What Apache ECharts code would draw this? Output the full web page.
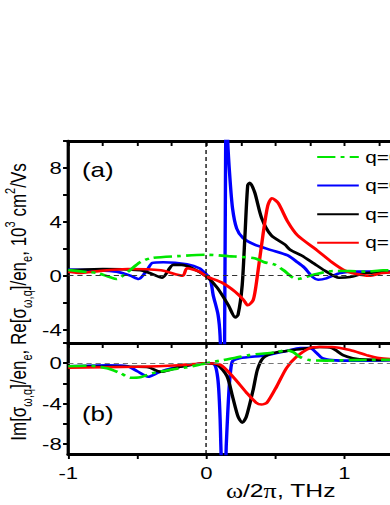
<!DOCTYPE html>
<html>
<head>
<meta charset="utf-8">
<script src="https://cdn.jsdelivr.net/npm/echarts@6/dist/echarts.min.js"></script>
<style>
html,body{margin:0;padding:0;background:#fff;overflow:hidden;}
#wrap{width:390px;height:505px;overflow:hidden;position:relative;background:#fff;}
#c{width:300px;height:505px;transform:scaleX(1.3);transform-origin:0 0;}
</style>
</head>
<body>
<div id="wrap"><div id="c"></div></div>
<script>
// ---------- data ----------
const legendNames = ['q=0.1', 'q=0.5', 'q=1.0', 'q=1.5'];
const xTickValues = [-1, -0.75, -0.5, -0.25, 0, 0.25, 0.5, 0.75, 1, 1.25, 1.5];
const xMajorTicks = [-1, -0.5, 0, 0.5, 1, 1.5];
const xLabelValues = [-1, 0, 1];
const reTicks = [-4, -2, 0, 2, 4, 6, 8, 10];
const reLabels = [-4, 0, 4, 8];
const imTicks = [-8, -6, -4, -2, 0, 2];
const imLabels = [-8, -4, 0];

// panel (a): Re
const reGreenX = [-1.0, -0.86, -0.79, -0.7, -0.65, -0.57, -0.48, -0.4, -0.21, 0.0, 0.16, 0.35, 0.42, 0.5, 0.56, 0.62, 0.66, 0.77, 0.92, 1.04, 1.16, 1.28, 1.5];
const reGreenY = [0.42, 0.27, 0.2, -0.1, -0.25, 0.27, 1.0, 1.3, 1.45, 1.55, 1.45, 1.3, 1.0, 0.8, 0.4, -0.1, -0.25, 0.05, 0.35, 0.35, 0.3, 0.4, 0.3];

const reBlueX = [-1.0, -0.8, -0.65, -0.55, -0.49, -0.43, -0.39, -0.31, -0.14, -0.05, 0.0, 0.03, 0.05, 0.085, 0.1, 0.115, 0.125, 0.135, 0.145, 0.155, 0.17, 0.19, 0.22, 0.265, 0.35, 0.47, 0.59, 0.66, 0.71, 0.77, 0.81, 0.87, 0.97, 1.09, 1.28, 1.5];
const reBlueY = [0.45, 0.4, 0.3, 0.0, -0.25, 0.4, 0.95, 1.0, 0.85, 0.55, 0.1, -0.3, -1.45, -2.9, -4.5, -9, -14, 0, 14, 10, 7.4, 5.0, 3.5, 2.8, 2.3, 1.9, 1.5, 1.0, 0.6, -0.1, -0.3, -0.2, 0.2, 0.3, 0.3, 0.3];

const reBlackX = [-1.0, -0.75, -0.48, -0.41, -0.32, -0.24, -0.18, -0.1, 0.0, 0.08, 0.16, 0.21, 0.23, 0.26, 0.28, 0.30, 0.315, 0.35, 0.40, 0.47, 0.57, 0.61, 0.69, 0.78, 0.87, 0.96, 1.04, 1.16, 1.5];
const reBlackY = [0.4, 0.5, 0.4, 0.2, -0.15, 0.8, 0.8, 0.55, -0.05, -0.9, -2.2, -3.1, -2.9, -0.7, 3.0, 6.7, 6.9, 6.2, 4.3, 3.0, 2.3, 1.9, 1.5, 0.9, 0.3, -0.15, -0.1, 0.2, 0.3];

const reRedX = [-1.0, -0.91, -0.82, -0.57, -0.33, -0.17, -0.14, -0.05, 0.0, 0.11, 0.21, 0.27, 0.30, 0.34, 0.37, 0.41, 0.445, 0.475, 0.52, 0.59, 0.66, 0.80, 0.91, 1.0, 1.08, 1.18, 1.28, 1.5];
const reRedY = [0.3, 0.2, 0.3, 0.5, 0.4, 0.0, 0.55, 0.3, -0.05, -0.5, -1.2, -1.8, -2.2, -1.8, 0.0, 3.0, 5.2, 5.75, 5.4, 4.0, 3.0, 1.9, 1.0, 0.4, 0.15, 0.0, 0.2, 0.3];

// panel (b): Im
const imGreenX = [-1.0, -0.84, -0.72, -0.62, -0.55, -0.48, -0.39, -0.26, -0.14, 0.0, 0.12, 0.31, 0.51, 0.58, 0.63, 0.68, 0.75, 0.87, 1.04, 1.5];
const imGreenY = [-0.3, -0.25, -0.5, -1.0, -1.45, -1.4, -1.0, -0.65, -0.4, 0.0, 0.3, 0.8, 1.1, 1.3, 1.1, 0.6, 0.3, 0.25, 0.3, 0.35];

const imBlueX = [-1.0, -0.72, -0.57, -0.5, -0.42, -0.36, -0.29, -0.19, 0.0, 0.06, 0.08, 0.09, 0.10, 0.105, 0.11, 0.12, 0.13, 0.14, 0.145, 0.155, 0.165, 0.175, 0.19, 0.24, 0.44, 0.58, 0.68, 0.75, 0.80, 0.84, 0.91, 1.04, 1.5];
const imBlueY = [-0.3, -0.2, -0.3, -0.8, -1.35, -1.0, -0.65, -0.35, 0.0, -0.15, -1.2, -2.6, -5.5, -8, -10, -12, -12, -10, -8, -5, -2.5, -0.9, 0.2, 0.5, 0.8, 1.2, 1.5, 1.5, 1.0, 0.5, 0.3, 0.25, 0.35];

const imBlackX = [-1.0, -0.5, -0.42, -0.33, -0.26, -0.19, 0.0, 0.08, 0.15, 0.19, 0.23, 0.26, 0.29, 0.34, 0.37, 0.41, 0.48, 0.63, 0.75, 0.82, 0.91, 0.99, 1.06, 1.16, 1.5];
const imBlackY = [-0.35, -0.35, -0.4, -0.85, -0.65, -0.35, 0.0, -0.15, -1.3, -3.3, -5.3, -5.9, -5.3, -2.6, -0.65, 0.5, 1.0, 1.3, 1.5, 1.6, 1.5, 0.8, 0.5, 0.35, 0.3];

const imRedX = [-1.0, -0.5, -0.2, 0.0, 0.1, 0.19, 0.29, 0.36, 0.40, 0.44, 0.51, 0.58, 0.65, 0.75, 0.82, 0.91, 1.04, 1.16, 1.25, 1.5];
const imRedY = [-0.45, -0.35, -0.2, 0.0, -0.15, -1.3, -2.9, -3.9, -4.1, -3.9, -2.3, -0.5, 0.6, 1.5, 1.6, 1.6, 1.3, 0.8, 0.5, 0.3];

// ---------- chart ----------
const FONT = '"Liberation Sans", Arial, sans-serif';
const SERIF = '"Liberation Serif", "Times New Roman", serif';
const COLORS = { green: '#00e600', blue: '#0000ff', black: '#000000', red: '#ff0000' };
const GREEN_DASH = [14, 4, 3, 4];

function pairs(xs, ys) { return xs.map((x, i) => [x, ys[i]]); }

function mkSeries(name, color, dash, xIdx, yIdx, data, extra) {
  return Object.assign({
    type: 'line', name: name, xAxisIndex: xIdx, yAxisIndex: yIdx,
    data: data, symbol: 'none', showSymbol: false, smooth: 0.25,
    clip: true, silent: true,
    lineStyle: { color: color, width: 2.6, type: dash || 'solid' },
    itemStyle: { color: color }
  }, extra || {});
}

function zeroLines(hColor) {
  return {
    silent: true, symbol: ['none', 'none'], animation: false,
    label: { show: false },
    lineStyle: { type: [4, 3], width: 1, color: '#000' },
    data: [
      { xAxis: 0, lineStyle: { color: '#000', type: [4, 3], width: 1 } },
      { yAxis: 0, lineStyle: { color: hColor, type: [4, 3], width: 1 } }
    ]
  };
}

const axisLineStyleH = { show: true, onZero: false, lineStyle: { color: '#000', width: 3 } };
const axisLineStyleV = { show: true, onZero: false, lineStyle: { color: '#000', width: 2.5 } };
const labelFmt = v => (v < 0 ? '-' + Math.abs(v) : String(v));

const option = {
  animation: false,
  backgroundColor: '#fff',
  grid: [
    { left: 52.5, width: 265.5, top: 141, height: 202, outerBoundsMode: 'none', containLabel: false },
    { left: 52.5, width: 265.5, top: 343, height: 111, outerBoundsMode: 'none', containLabel: false }
  ],
  xAxis: [
    { gridIndex: 0, type: 'value', min: -1, max: 1.5, position: 'bottom',
      axisLine: axisLineStyleH,
      axisTick: { show: true, inside: false, length: 5, customValues: xTickValues, lineStyle: { color: '#000', width: 1.5 } },
      axisLabel: { show: false }, splitLine: { show: false } },
    { gridIndex: 0, type: 'value', min: -1, max: 1.5, position: 'top',
      axisLine: axisLineStyleH,
      axisTick: { show: true, inside: true, length: 5, customValues: xTickValues, lineStyle: { color: '#000', width: 1.5 } },
      axisLabel: { show: false }, splitLine: { show: false } },
    { gridIndex: 1, type: 'value', min: -1, max: 1.5, position: 'bottom',
      axisLine: axisLineStyleH,
      axisTick: { show: true, inside: false, length: 5, customValues: xMajorTicks, lineStyle: { color: '#000', width: 1.5 } },
      axisLabel: { show: true, customValues: xLabelValues, fontSize: 17, margin: 10, color: '#000', fontFamily: FONT, formatter: labelFmt },
      splitLine: { show: false } }
  ],
  yAxis: [
    { gridIndex: 0, type: 'value', min: -5, max: 10,
      axisLine: axisLineStyleV,
      axisTick: { show: true, inside: false, length: 4, customValues: reTicks, lineStyle: { color: '#000', width: 2 } },
      axisLabel: { show: true, customValues: reLabels, fontSize: 17, margin: 5, color: '#000', fontFamily: FONT, formatter: labelFmt },
      splitLine: { show: false } },
    { gridIndex: 1, type: 'value', min: -9, max: 2,
      axisLine: axisLineStyleV,
      axisTick: { show: true, inside: false, length: 4, customValues: imTicks, lineStyle: { color: '#000', width: 2 } },
      axisLabel: { show: true, customValues: imLabels, fontSize: 17, margin: 5, color: '#000', fontFamily: FONT, formatter: labelFmt },
      splitLine: { show: false } }
  ],
  legend: {
    data: legendNames,
    orient: 'vertical', left: 243, top: 149, padding: 0,
    itemWidth: 32, itemHeight: 18, itemGap: 12.6,
    itemStyle: { opacity: 0, borderWidth: 0 },
    textStyle: { fontSize: 16, color: '#000', fontFamily: FONT },
    selectedMode: false
  },
  series: [
    mkSeries(legendNames[1], COLORS.blue, null, 0, 0, pairs(reBlueX, reBlueY), { markLine: zeroLines('#333') }),
    mkSeries(legendNames[2], COLORS.black, null, 0, 0, pairs(reBlackX, reBlackY)),
    mkSeries(legendNames[3], COLORS.red, null, 0, 0, pairs(reRedX, reRedY)),
    mkSeries(legendNames[0], COLORS.green, GREEN_DASH, 0, 0, pairs(reGreenX, reGreenY)),
    mkSeries(legendNames[1], COLORS.blue, null, 2, 1, pairs(imBlueX, imBlueY), { markLine: zeroLines('#777') }),
    mkSeries(legendNames[2], COLORS.black, null, 2, 1, pairs(imBlackX, imBlackY)),
    mkSeries(legendNames[3], COLORS.red, null, 2, 1, pairs(imRedX, imRedY)),
    mkSeries(legendNames[0], COLORS.green, GREEN_DASH, 2, 1, pairs(imGreenX, imGreenY))
  ],
  graphic: [
    { type: 'text', left: 63, top: 160, silent: true,
      style: { text: '(a)', fontSize: 20, fontFamily: FONT, fill: '#000' } },
    { type: 'text', left: 63, top: 404, silent: true,
      style: { text: '(b)', fontSize: 20, fontFamily: FONT, fill: '#000' } },
    { type: 'text', x: 216, y: 491, silent: true,
      style: {
        text: '{s|ω}{m|/2}{s|π}{m|, THz}',
        align: 'center', verticalAlign: 'middle',
        rich: {
          m: { fontSize: 19, fontFamily: FONT, fill: '#000', lineHeight: 22 },
          s: { fontSize: 20, fontFamily: SERIF, fill: '#000', lineHeight: 22 }
        }
      } },
    { type: 'text', x: 14, y: 302, rotation: Math.PI / 2, silent: true,
      style: {
        text: '{m|Im[σ}{s|ω,q}{m|]/en}{s|e}{m|, Re[σ}{s|ω,q}{m|]/en}{s|e}{m|, 10}{p|3}{m| cm}{p|2}{m|/Vs}',
        align: 'center', verticalAlign: 'middle',
        rich: {
          m: { fontSize: 17, fontFamily: FONT, fill: '#000', lineHeight: 24 },
          s: { fontSize: 11, fontFamily: FONT, fill: '#000', lineHeight: 11, verticalAlign: 'bottom' },
          p: { fontSize: 11, fontFamily: FONT, fill: '#000', lineHeight: 11, verticalAlign: 'top' }
        }
      } }
  ]
};

const chart = echarts.init(document.getElementById('c'), null, { renderer: 'svg', width: 300, height: 505 });
chart.setOption(option);
</script>
</body>
</html>
